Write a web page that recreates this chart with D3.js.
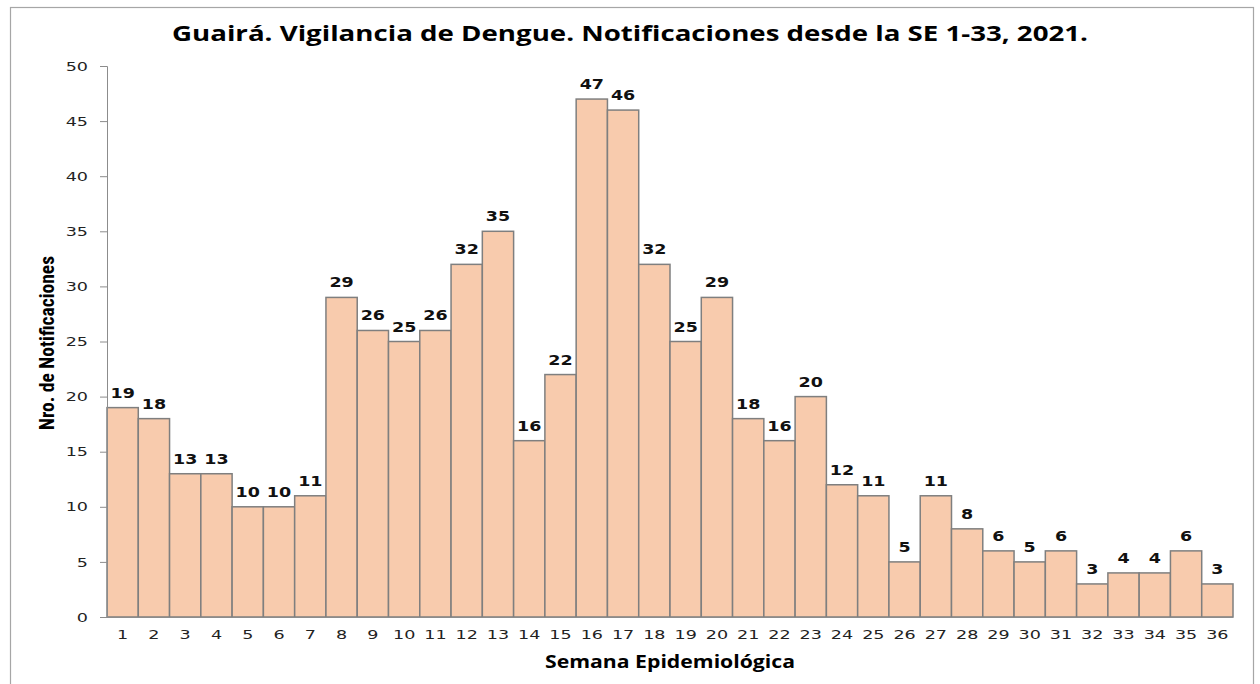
<!DOCTYPE html>
<html><head><meta charset="utf-8">
<script src="https://cdn.jsdelivr.net/npm/d3@7/dist/d3.min.js"></script>
<style>body{margin:0;background:#fff}svg{display:block}</style>
</head><body>
<svg id="c" width="1260" height="684"></svg>
<script>
const semanas = d3.range(1, 37).map(String);
const notificaciones = [19,18,13,13,10,10,11,29,26,25,26,32,35,16,22,47,46,32,25,29,18,16,20,12,11,5,11,8,6,5,6,3,4,4,6,3];
const yTicks = [0,5,10,15,20,25,30,35,40,45,50];
const title = "Guairá. Vigilancia de Dengue. Notificaciones desde la SE 1-33, 2021.";
const xTitle = "Semana Epidemiológica";
const yTitle = "Nro. de Notificaciones";

const svg = d3.select("#c");
const m = {left:107, right:1233, top:66, bottom:617};
const SX = 1.3;

svg.append("rect").attr("x",10.5).attr("y",7.5).attr("width",1243).attr("height",700)
  .attr("fill","none").attr("stroke","#a6a6a6").attr("stroke-width",1.2);

const x = d3.scaleBand().domain(semanas).range([m.left, m.right]).padding(0);
const y = d3.scaleLinear().domain([0,50]).range([m.bottom, m.top]);

svg.append("g").selectAll("rect").data(notificaciones).join("rect")
  .attr("x",(d,i)=>x(semanas[i])).attr("y",d=>y(d))
  .attr("width",x.bandwidth()).attr("height",d=>y(0)-y(d))
  .attr("fill","#F8CBAD").attr("stroke","#7f7f7f").attr("stroke-width",1.5);

const ya = svg.append("g").attr("transform",`translate(${m.left},0)`)
  .call(d3.axisLeft(y).tickValues(yTicks).tickSize(7).tickPadding(8));
ya.select(".domain").attr("stroke","#8c8c8c");
ya.selectAll(".tick line").attr("stroke","#8c8c8c");
ya.selectAll("text").attr("x",0).attr("transform","translate(-19,0) scale(1.35,1)")
  .attr("font-family","DejaVu Sans, Verdana").attr("font-size",13).attr("fill","#222");

const xa = svg.append("g").attr("transform",`translate(0,${m.bottom})`)
  .call(d3.axisBottom(x).tickSize(0).tickPadding(13));
xa.select(".domain").remove();
svg.append("line").attr("x1",m.left-7).attr("x2",m.right).attr("y1",m.bottom+0.5).attr("y2",m.bottom+0.5)
  .attr("stroke","#8c8c8c").attr("stroke-width",1);
xa.selectAll("text").attr("transform","scale(1.35,1)")
  .attr("font-family","DejaVu Sans, Verdana").attr("font-size",13).attr("fill","#222");

svg.append("g").selectAll("text").data(notificaciones).join("text")
  .attr("transform",(d,i)=>`translate(${x(semanas[i])+x.bandwidth()/2},${y(d)-10}) scale(1.25,1)`)
  .attr("text-anchor","middle").attr("font-family","DejaVu Sans, Verdana")
  .attr("font-weight","bold").attr("font-size",14).attr("fill","#111").text(d=>d);

svg.append("text").attr("x",172).attr("y",41)
  .attr("textLength",916).attr("lengthAdjust","spacingAndGlyphs")
  .attr("font-family","Open Sans, Calibri, sans-serif").attr("font-weight","bold")
  .attr("font-size",22).attr("fill","#000").text(title);

svg.append("text").attr("x",545).attr("y",668)
  .attr("textLength",250).attr("lengthAdjust","spacingAndGlyphs")
  .attr("font-family","Open Sans, Calibri, sans-serif").attr("font-weight","bold")
  .attr("font-size",17).attr("fill","#000").text(xTitle);

svg.append("text").attr("transform","translate(54,343) rotate(-90)").attr("text-anchor","middle")
  .attr("font-family","Liberation Sans Narrow, Arial Narrow, Roboto Condensed, sans-serif").attr("font-weight","bold")
  .attr("font-size",19.5).attr("fill","#000").text(yTitle);
</script>
</body></html>
